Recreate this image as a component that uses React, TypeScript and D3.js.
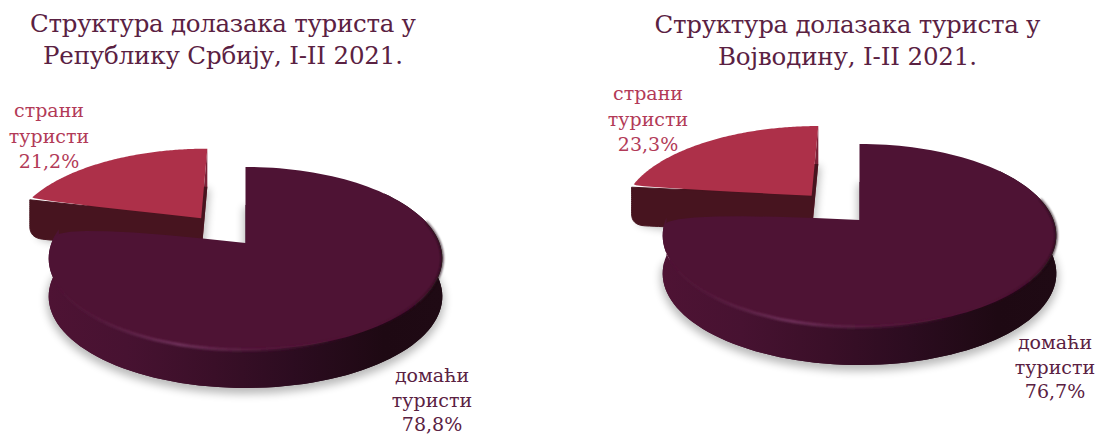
import React from "react";
import * as d3 from "d3";

const categories = ["домаћи", "страни"];
const categorySecondLine = "туристи";
const serbiaValues = [78.8, 21.2];
const vojvodinaValues = [76.7, 23.3];
const serbiaTitle = ["Структура долазака туриста у", "Републику Србију, I-II 2021."];
const vojvodinaTitle = ["Структура долазака туриста у", "Војводину, I-II 2021."];

const W = 1098, H = 434;
const TOP = "#4e1334", RED = "#ad3049", RED_SIDE = "#47141f", TITLE = "#5a2142", RED_TEXT = "#b23a57";
const FONT = "'DejaVu Serif', serif";
const B = 194, A = 88.9, K = 0.169, DEPTH = 38, EXPLODE = 0.375;

type P = [number, number];
const line = d3.line<P>();

function roundAt(pts: P[], idx: number, d: number): P[] {
  const n = pts.length, c = pts[idx];
  const dist = (p: P) => Math.hypot(p[0] - c[0], p[1] - c[1]);
  const lerp = (a: P, b: P, t: number): P => [a[0] + (b[0] - a[0]) * t, a[1] + (b[1] - a[1]) * t];
  let i = 1;
  while (i < n && dist(pts[(idx - i + n) % n]) < d) i++;
  let j = 1;
  while (j < n && dist(pts[(idx + j) % n]) < d) j++;
  const a = pts[(idx - i + n) % n], b = pts[(idx + j) % n];
  const curve = d3.range(0, 1.001, 0.125).map((t): P => lerp(lerp(a, c, t), lerp(c, b, t), t));
  const out: P[] = [];
  for (let s = j; s <= n - i; s++) out.push(pts[(idx + s) % n]);
  return [...curve, ...out];
}

function Pie({ id, values, title, titleWidths, cx, ay, titleX, titleY, redLabel, darkLabel, sliceLift }: any) {
  const arcs = d3.pie<number>().sort(null).startAngle(0).endAngle(2 * Math.PI)(values);
  const [big, small] = arcs;
  const proj = (u: number, v: number, dy = 0): P => {
    const w = 1 - K * v;
    return [cx + (B * u) / w, ay + (A * v) / w + dy];
  };
  const on = (a: number, ou = 0, ov = 0, dy = 0) => proj(ou + Math.sin(a), ov - Math.cos(a), dy);
  const samples = (a0: number, a1: number) => d3.range(0, 121).map((i) => a0 + ((a1 - a0) * i) / 120);

  // Large slice
  const bigArc = samples(big.startAngle, big.endAngle);
  const bigTopRaw: P[] = [proj(0, 0), ...bigArc.map((a) => on(a))];
  const bigTop = roundAt(bigTopRaw, bigTopRaw.length - 1, 14);
  const bigBottom: P[] = bigTop.map((p) => [p[0], p[1] + DEPTH]);
  const ribbonArc = bigArc.filter((a) => a > 0.9 && a < big.endAngle - 0.05);
  const ribbon: P[] = [...ribbonArc.map((a) => on(a)), ...ribbonArc.slice().reverse().map((a) => on(a, 0, 0, DEPTH))];
  const rimArc = bigArc.filter((a) => a > 1.3 && a < big.endAngle - 0.25);

  // Exploded slice
  const mid = (small.startAngle + small.endAngle) / 2;
  const ou = EXPLODE * Math.sin(mid) - 0.008, ov = -EXPLODE * Math.cos(mid) + 0.012 - sliceLift;
  const smallArc = samples(small.startAngle, small.endAngle);
  const smallRaw: P[] = [proj(ou, ov), ...smallArc.map((a) => on(a, ou, ov))];
  const smallTop = roundAt(smallRaw, 1, 3);
  const smallBottomRaw: P[] = smallRaw.map((p) => [p[0], p[1] + DEPTH]);
  const smallBottom = roundAt(smallBottomRaw, 1, 11);
  const corner = on(small.startAngle, ou, ov), front = proj(ou, ov), back = on(small.endAngle, ou, ov);
  const faceDense: P[] = [corner, front, [front[0], front[1] + DEPTH],
    ...d3.range(0, 41).map((i): P => [
      front[0] + ((corner[0] - front[0]) * i) / 40,
      front[1] + DEPTH + ((corner[1] - front[1]) * i) / 40,
    ]),
    ...d3.range(1, 21).map((i): P => [corner[0], corner[1] + DEPTH - (DEPTH * i) / 20]).slice(0, 19),
  ];
  const face = roundAt(faceDense, 43, 11);
  const rightFace: P[] = [back, front, [front[0], front[1] + DEPTH], [back[0], back[1] + DEPTH]];

  const xLeft = cx - 197, xRight = cx + 197;
  const f = (t: number) => xLeft + (xRight - xLeft) * t;

  return (
    <g>
      <defs>
        <linearGradient id={id + "side"} gradientUnits="userSpaceOnUse" x1={xLeft} x2={xRight} y1={0} y2={0}>
          <stop offset="0" stopColor="#4e1334" />
          <stop offset="0.2" stopColor="#471231" />
          <stop offset="0.42" stopColor="#3a0f28" />
          <stop offset="0.62" stopColor="#2c0c20" />
          <stop offset="0.85" stopColor="#1e0913" />
          <stop offset="1" stopColor="#1f0a14" />
        </linearGradient>
        <linearGradient id={id + "rim"} gradientUnits="userSpaceOnUse" x1={f(0)} x2={f(1)} y1={0} y2={0}>
          <stop offset="0" stopColor="#6b2c55" stopOpacity="0" />
          <stop offset="0.12" stopColor="#6f3059" stopOpacity="0.25" />
          <stop offset="0.33" stopColor="#743560" stopOpacity="1" />
          <stop offset="0.55" stopColor="#5a1e42" stopOpacity="0.7" />
          <stop offset="0.8" stopColor="#4e1334" stopOpacity="0" />
          <stop offset="1" stopColor="#200a15" stopOpacity="0.8" />
        </linearGradient>
        <filter id={id + "blur"} filterUnits="userSpaceOnUse" x={0} y={0} width={W} height={H}>
          <feGaussianBlur stdDeviation="4" />
        </filter>
        <filter id={id + "soft"} filterUnits="userSpaceOnUse" x={0} y={0} width={W} height={H}>
          <feGaussianBlur stdDeviation="0.9" />
        </filter>
      </defs>

      <g filter={`url(#${id}blur)`} transform="translate(0,4)" fill="#000" stroke="#000" strokeWidth="4" opacity="0.27">
        <path d={line(bigBottom)!} />
        <path d={line(smallBottom)!} />
      </g>

      <path d={line(rightFace)!} fill="#7a2238" />
      <path d={line(smallBottom)! + "Z"} fill={RED_SIDE} />
      <path d={line(face)! + "Z"} fill={RED_SIDE} stroke={RED_SIDE} strokeWidth="1" />
      <path d={line(smallTop)! + "Z"} fill={RED} />

      <path d={line(bigBottom)! + "Z"} fill={`url(#${id}side)`} />
      <path d={line(ribbon)! + "Z"} fill={`url(#${id}side)`} />
      <path d={line(bigTop)! + "Z"} fill={TOP} />
      <path
        d={line(rimArc.map((a) => on(a)))!}
        fill="none"
        stroke={`url(#${id}rim)`}
        strokeWidth="2.6"
        filter={`url(#${id}soft)`}
      />

      <g fontFamily={FONT} textAnchor="middle" fill={TITLE} fontSize="24.5">
        {title.map((t: string, i: number) => (
          <text key={i} x={titleX} y={titleY + i * 32} textLength={titleWidths[i]} lengthAdjust="spacing">{t}</text>
        ))}
      </g>
      <g fontFamily={FONT} textAnchor="middle" fill={RED_TEXT} fontSize="19">
        <text x={redLabel.x} y={redLabel.y}>{categories[1]}</text>
        <text x={redLabel.x} y={redLabel.y + 25.5}>{categorySecondLine}</text>
        <text x={redLabel.x} y={redLabel.y + 51}>{String(values[1]).replace(".", ",")}%</text>
      </g>
      <g fontFamily={FONT} textAnchor="middle" fill={TITLE} fontSize="19">
        <text x={darkLabel.x} y={darkLabel.y}>{categories[0]}</text>
        <text x={darkLabel.x} y={darkLabel.y + 24.5}>{categorySecondLine}</text>
        <text x={darkLabel.x} y={darkLabel.y + 49}>{String(values[0]).replace(".", ",")}%</text>
      </g>
    </g>
  );
}

export default function App() {
  return (
    <svg
      width={W}
      height={H}
      viewBox={`0 0 ${W} ${H}`}
      style={{ position: "absolute", left: 0, top: 0, background: "#fff" }}
    >
      <Pie id="a" values={serbiaValues} title={serbiaTitle} titleWidths={[386, 360]} cx={245.5} ay={243} titleX={223} titleY={32}
        redLabel={{ x: 49, y: 117 }} darkLabel={{ x: 432, y: 382 }} sliceLift={0.01} />
      <Pie id="b" values={vojvodinaValues} title={vojvodinaTitle} titleWidths={[386, 259]} cx={859.5} ay={220} titleX={847.5} titleY={33}
        redLabel={{ x: 648, y: 100 }} darkLabel={{ x: 1055, y: 349 }} sliceLift={0.02} />
    </svg>
  );
}
